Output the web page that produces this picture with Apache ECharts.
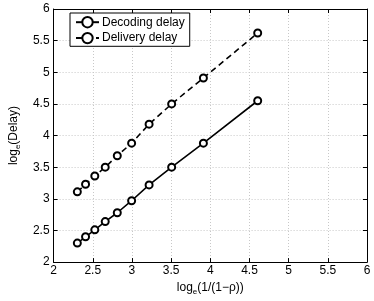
<!DOCTYPE html>
<html><head><meta charset="utf-8">
<script src="https://cdn.jsdelivr.net/npm/echarts@6/dist/echarts.min.js"></script>
<style>html,body{margin:0;padding:0;background:#fff}#c{width:374px;height:301px}</style>
</head><body><div id="c"></div>
<script>
const xValues = [2.303, 2.408, 2.526, 2.659, 2.813, 2.996, 3.219, 3.507, 3.912, 4.605];
const decodingDelay = [2.30, 2.40, 2.51, 2.64, 2.78, 2.97, 3.22, 3.50, 3.88, 4.55];
const deliveryDelay = [3.11, 3.23, 3.36, 3.50, 3.68, 3.88, 4.18, 4.50, 4.91, 5.62];
const seriesNames = ['Decoding delay', 'Delivery delay'];
const xTicks = [2, 2.5, 3, 3.5, 4, 4.5, 5, 5.5, 6];
const yTicks = [2, 2.5, 3, 3.5, 4, 4.5, 5, 5.5, 6];

const font = 'Liberation Sans, Arial, Helvetica, sans-serif';
const pair = (ys) => xValues.map((x, i) => [x, ys[i]]);
const gridLine = {show: true, lineStyle: {color: '#c8c8c8', type: [1, 2], width: 1}};
const fmt = v => String(v);
const baseAxis = (ticks) => ({
  type: 'value', min: ticks[0], max: ticks[ticks.length - 1], interval: ticks[1] - ticks[0],
  axisLine: {show: true, lineStyle: {color: '#000', width: 1}},
  axisTick: {show: true, inside: true, length: 4, lineStyle: {color: '#000'}},
  axisLabel: {show: true, color: '#000', fontSize: 12, fontFamily: font, formatter: fmt},
  splitLine: gridLine
});
const rich = {
  a: {fontSize: 12, fontFamily: font, color: '#000', lineHeight: 16},
  b: {fontSize: 8, fontFamily: font, color: '#000', lineHeight: 16, verticalAlign: 'bottom', padding: [6, 0, 0, 0]}
};

const chart = echarts.init(document.getElementById('c'), null, {renderer: 'canvas'});
chart.setOption({
  animation: false,
  backgroundColor: '#fff',
  grid: {left: 42, right: 7, top: 9, bottom: 34, containLabel: false},
  legend: {
    left: 70, top: 13, orient: 'vertical',
    backgroundColor: '#fff', borderColor: '#000', borderWidth: 1,
    padding: [3, 5, 2, 5], itemGap: 3.5, itemWidth: 23, itemHeight: 13,
    itemStyle: {borderWidth: 1.5},
    textStyle: {fontSize: 12, fontFamily: font, color: '#000', padding: [0, 0, 0, -2]},
    data: seriesNames.map(n => ({name: n, itemStyle: {}}))
  },
  xAxis: [
    Object.assign(baseAxis(xTicks), {
      position: 'bottom',
      name: '{a|log}{b|e}{a|(1/(1−ρ))}', nameLocation: 'middle', nameGap: 14,
      nameTextStyle: {rich: rich},
      axisLabel: {color: '#000', fontSize: 12, fontFamily: font, margin: 3, formatter: fmt}
    }),
    Object.assign(baseAxis(xTicks), {position: 'top', axisLabel: {show: false}, splitLine: {show: false}})
  ],
  yAxis: [
    Object.assign(baseAxis(yTicks), {
      position: 'left',
      name: '{a|log}{b|e}{a|(Delay)}', nameLocation: 'middle', nameGap: 29, nameRotate: 90,
      nameTextStyle: {rich: rich},
      axisLabel: {color: '#000', fontSize: 12, fontFamily: font, margin: 4, formatter: fmt}
    }),
    Object.assign(baseAxis(yTicks), {position: 'right', axisLabel: {show: false}, splitLine: {show: false}})
  ],
  series: [
    {
      name: seriesNames[0], type: 'line', data: pair(decodingDelay),
      symbol: 'emptyCircle', symbolSize: 7,
      lineStyle: {color: '#000', width: 1.6, type: 'solid'},
      itemStyle: {color: '#000', borderColor: '#000', borderWidth: 1.6}
    },
    {
      name: seriesNames[1], type: 'line', data: pair(deliveryDelay),
      symbol: 'emptyCircle', symbolSize: 7,
      lineStyle: {color: '#000', width: 1.6, type: [6, 4]},
      itemStyle: {color: '#000', borderColor: '#000', borderWidth: 1.6}
    }
  ]
});
</script></body></html>
